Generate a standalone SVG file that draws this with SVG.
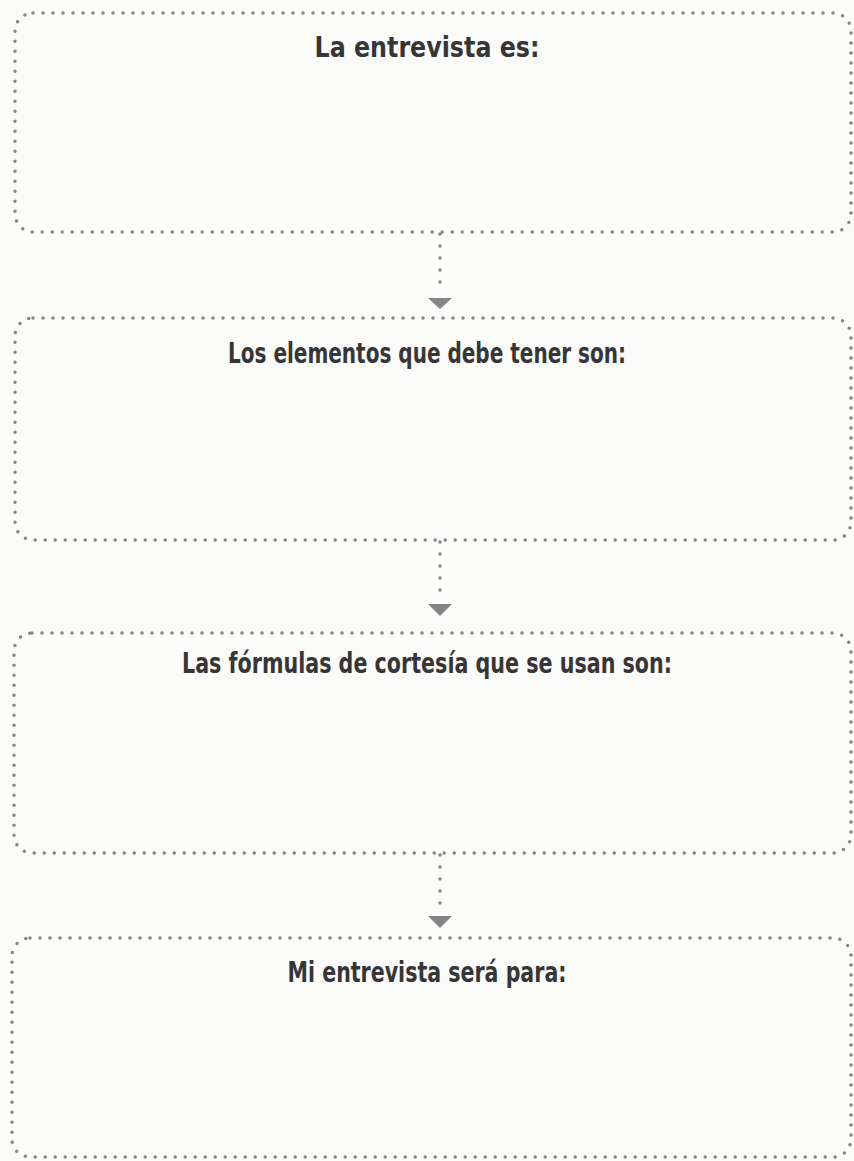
<svg xmlns="http://www.w3.org/2000/svg" width="854" height="1161" viewBox="0 0 854 1161">
<defs>
<style>
.box{fill:none;stroke:#858585;stroke-width:3.5;stroke-dasharray:0 10;stroke-linecap:round}
.lbl{font-family:"DejaVu Sans Condensed","DejaVu Sans","Liberation Sans",sans-serif;font-weight:bold;font-size:29px;fill:#363636;text-anchor:middle}
.con{fill:none;stroke:#858585;stroke-width:3.5;stroke-dasharray:0 12;stroke-linecap:round}
.head{fill:#858585}
</style>
</defs>
<rect width="854" height="1161" fill="#fbfbfa"/>
<g id="node1">
<rect class="box" x="15" y="13" width="836" height="219" rx="18"/>
<text class="lbl" x="427" y="57" textLength="225" lengthAdjust="spacingAndGlyphs">La entrevista es:</text>
</g>
<g id="node2">
<rect class="box" x="15" y="318" width="836" height="222" rx="18"/>
<text class="lbl" x="427" y="363" textLength="398" lengthAdjust="spacingAndGlyphs">Los elementos que debe tener son:</text>
</g>
<g id="node3">
<rect class="box" x="14" y="633" width="837" height="220" rx="18"/>
<text class="lbl" x="427" y="673" textLength="490" lengthAdjust="spacingAndGlyphs">Las fórmulas de cortesía que se usan son:</text>
</g>
<g id="node4">
<rect class="box" x="12" y="938" width="839" height="219" rx="18"/>
<text class="lbl" x="427" y="982" textLength="279" lengthAdjust="spacingAndGlyphs">Mi entrevista será para:</text>
</g>
<g id="connectors">
<line class="con" x1="440" y1="234" x2="440" y2="294"/>
<polygon class="head" points="428,298 452,298 440,309"/>
<line class="con" x1="440" y1="542" x2="440" y2="600"/>
<polygon class="head" points="428,604 452,604 440,616"/>
<line class="con" x1="440" y1="855" x2="440" y2="912"/>
<polygon class="head" points="428,916 452,916 440,928"/>
</g>
</svg>
